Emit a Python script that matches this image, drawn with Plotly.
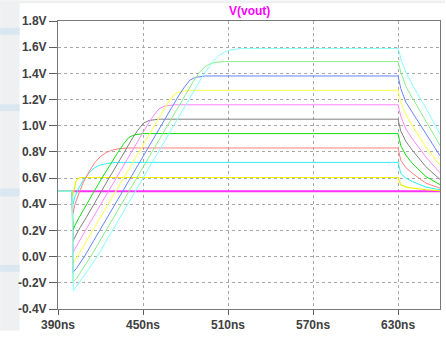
import plotly.graph_objects as go

# ---------------- data ----------------
x_tick_vals = [390, 450, 510, 570, 630]
x_tick_text = ["390ns", "450ns", "510ns", "570ns", "630ns"]
y_tick_vals = [-0.4, -0.2, 0.0, 0.2, 0.4, 0.6, 0.8, 1.0, 1.2, 1.4, 1.6, 1.8]
y_tick_text = ["-0.4V", "-0.2V", "0.0V", "0.2V", "0.4V", "0.6V", "0.8V",
               "1.0V", "1.2V", "1.4V", "1.6V", "1.8V"]
x_range = [390, 659.6]
y_range = [-0.4, 1.8]
title_text = "V(vout)"

t_050 = [400, 659.6]
v_050 = [0.5, 0.5]

t_061 = [390, 400, 400.5, 401.5, 402.5, 404, 406, 630, 631.9, 635.5, 640.3, 649.7, 659.6]
v_061 = [0.5, 0.5, 0.46, 0.53, 0.57, 0.595, 0.605, 0.605, 0.549, 0.533, 0.523, 0.511, 0.504]

t_072 = [390, 400, 400.6, 402, 405, 408, 412, 416, 420, 425, 432, 630, 631.9, 635.5, 640.3, 649.7, 659.6]
v_072 = [0.5, 0.5, 0.40, 0.46, 0.53, 0.585, 0.64, 0.68, 0.70, 0.713, 0.72, 0.72, 0.635, 0.60, 0.573, 0.531, 0.511]

t_083 = [390, 400, 400.6, 402, 405, 408, 412, 416, 420, 424, 428, 433, 440, 630, 631.9, 635.5, 640.3, 649.7, 659.6]
v_083 = [0.5, 0.5, 0.33, 0.40, 0.49, 0.57, 0.65, 0.72, 0.765, 0.795, 0.813, 0.825, 0.83, 0.83, 0.736, 0.68, 0.635, 0.561, 0.523]

t_094 = [390, 400, 400.6, 402, 405, 410, 415, 421, 426, 431.9, 435.9, 439.9, 443.9, 450, 630, 631.9, 635.5, 640.3, 649.7, 659.6]
v_094 = [0.5, 0.5, 0.2, 0.24, 0.30, 0.40, 0.49, 0.60, 0.69, 0.79, 0.855, 0.91, 0.93, 0.94, 0.94, 0.848, 0.775, 0.71, 0.611, 0.55]

t_105 = [390, 400, 400.6, 402, 404.4, 410, 415.2, 420, 426, 431, 436.8, 442.3, 446.3, 450.3, 454.3, 461, 630, 631.9, 635.5, 640.3, 649.7, 659.6]
v_105 = [0.5, 0.5, 0.12, 0.15, 0.20, 0.30, 0.40, 0.49, 0.60, 0.69, 0.80, 0.90, 0.965, 1.02, 1.04, 1.05, 1.05, 0.96, 0.88, 0.81, 0.686, 0.59]

t_116 = [390, 400, 400.6, 402, 409.4, 420.2, 431, 441.8, 448, 453.3, 457.3, 461.3, 465.3, 472, 630, 631.9, 635.5, 640.3, 649.7, 659.6]
v_116 = [0.5, 0.5, 0.03, 0.06, 0.2, 0.4, 0.6, 0.8, 0.915, 1.01, 1.075, 1.13, 1.15, 1.16, 1.16, 1.072, 0.975, 0.897, 0.76, 0.64]

t_127 = [390, 400, 400.6, 403.6, 414.4, 425.2, 436, 446.8, 457.6, 464.2, 468.2, 472.2, 476.2, 483, 630, 631.9, 635.5, 640.3, 649.7, 659.6]
v_127 = [0.5, 0.5, -0.05, 0.0, 0.2, 0.4, 0.6, 0.8, 1.0, 1.12, 1.185, 1.24, 1.26, 1.27, 1.27, 1.184, 1.085, 0.997, 0.835, 0.70]

t_138 = [390, 400, 400.6, 403, 408.6, 419.4, 430.2, 441, 451.8, 462.6, 475.2, 479.2, 483.2, 487.2, 494, 630, 631.9, 635.5, 640.3, 649.7, 659.6]
v_138 = [0.5, 0.5, -0.12, -0.09, 0.0, 0.2, 0.4, 0.6, 0.8, 1.0, 1.23, 1.295, 1.35, 1.37, 1.38, 1.38, 1.284, 1.18, 1.097, 0.935, 0.77]

t_149 = [390, 400, 400.6, 403, 407, 413.1, 423.9, 434.7, 445.5, 456.3, 467.1, 477.9, 485.6, 489.6, 493.6, 497.6, 501.6, 508, 630, 631.9, 635.5, 640.3, 649.7, 659.6]
v_149 = [0.5, 0.5, -0.19, -0.17, -0.10, 0.0, 0.2, 0.4, 0.6, 0.8, 1.0, 1.2, 1.34, 1.405, 1.45, 1.475, 1.485, 1.49, 1.49, 1.409, 1.30, 1.209, 1.035, 0.85]

t_160 = [390, 400, 400.8, 403.5, 410, 417.6, 428.4, 439.2, 450, 460.8, 471.6, 482.4, 493.2, 499.5, 503.5, 507.5, 511.5, 519.5, 630, 631, 631.9, 635.5, 640.3, 649.7, 659.6]
v_160 = [0.5, 0.5, -0.26, -0.22, -0.12, 0.0, 0.2, 0.4, 0.6, 0.8, 1.0, 1.2, 1.4, 1.49, 1.535, 1.562, 1.578, 1.59, 1.59, 1.56, 1.508, 1.41, 1.309, 1.134, 0.935]

# ---------------- figure ----------------
W, H = 446, 337
ML, MR, MT, MB = 58, 5, 21, 22
PW, PH = W - ML - MR, H - MT - MB

fig = go.Figure()

traces = [
    (t_050, v_050, "#ff30ff", 2.0),
    (t_061, v_061, "#f0f000", 1.1),
    (t_072, v_072, "#30eeee", 1.0),
    (t_083, v_083, "#ff8080", 1.0),
    (t_094, v_094, "#10e010", 1.0),
    (t_105, v_105, "#808080", 1.0),
    (t_116, v_116, "#ff88ff", 1.0),
    (t_127, v_127, "#ffff70", 1.2),
    (t_138, v_138, "#6484ff", 1.0),
    (t_149, v_149, "#88f088", 1.0),
    (t_160, v_160, "#88ffff", 1.0),
]
for tx, vy, col, w in traces:
    fig.add_trace(go.Scatter(x=tx, y=vy, mode="lines",
                             line=dict(color=col, width=w),
                             hoverinfo="skip", showlegend=False))

axis_font = dict(family="Liberation Sans, Arial, sans-serif", size=12,
                 color="#404040", weight="bold")

fig.update_xaxes(range=x_range, tickvals=x_tick_vals, ticktext=x_tick_text,
                 showgrid=True, gridcolor="#a8a8a8", griddash="3px,3px", gridwidth=1,
                 showline=True, linecolor="#787878", linewidth=1, mirror=True,
                 ticks="outside", ticklen=5, tickcolor="#606060",
                 tickfont=axis_font, zeroline=False)
fig.update_yaxes(range=y_range, tickvals=y_tick_vals, ticktext=y_tick_text,
                 showgrid=True, gridcolor="#a8a8a8", griddash="3px,3px", gridwidth=1,
                 showline=True, linecolor="#787878", linewidth=1, mirror=True,
                 ticks="outside", ticklen=8, tickcolor="#606060",
                 tickfont=axis_font, zeroline=False)

# light grey window chrome on the left and top edges of the screenshot
def px_x(p):
    return (p - ML) / PW

def px_y(p):
    return (H - MB - p) / PH

shapes = [
    dict(type="rect", xref="paper", yref="paper", x0=px_x(0), x1=px_x(19.5),
         y0=px_y(H), y1=px_y(0), fillcolor="#eef0f2", line=dict(width=0), layer="below"),
    dict(type="rect", xref="paper", yref="paper", x0=px_x(0), x1=px_x(W),
         y0=px_y(3), y1=px_y(0), fillcolor="#eef0f2", line=dict(width=0), layer="below"),
]
for b0, b1 in [(28, 35), (106, 113), (192, 200), (270, 277)]:
    shapes.append(dict(type="rect", xref="paper", yref="paper", x0=px_x(0), x1=px_x(19.5),
                       y0=px_y(b1), y1=px_y(b0), fillcolor="#dae6f0",
                       line=dict(width=0), layer="below"))

fig.update_layout(
    width=W, height=H,
    margin=dict(l=ML, r=MR, t=MT, b=MB, pad=0),
    paper_bgcolor="white", plot_bgcolor="white",
    shapes=shapes,
    annotations=[dict(text=title_text, xref="paper", yref="paper", x=0.5, y=1,
                      xanchor="center", yanchor="bottom", yshift=1, showarrow=False,
                      font=dict(family="Liberation Sans, Arial, sans-serif", size=12,
                                color="#ff00ff", weight="bold"))],
)

fig.write_html("out.html", config={"displayModeBar": False})
